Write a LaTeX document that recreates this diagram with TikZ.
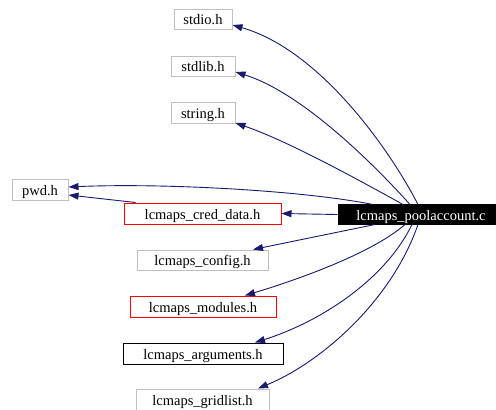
\documentclass[tikz,border=0pt]{standalone}
\usepackage{fontspec}
\setmainfont{Liberation Serif}
\usetikzlibrary{arrows.meta}
\definecolor{edgeblue}{HTML}{191970}
\definecolor{boxgray}{HTML}{BFBFBF}
\begin{document}
\begin{tikzpicture}[x=1pt,y=-1pt,
  box/.style={draw=boxgray,line width=1pt,inner sep=0pt,text height=11pt,text depth=0pt,font=\fontsize{14.5}{16}\selectfont},
  redbox/.style={box,draw=red},
  blackbox/.style={box,draw=black},
  edge/.style={draw=edgeblue,line width=0.9pt,-{Triangle[length=10pt,width=7pt]}}]
\useasboundingbox (0,0) rectangle (496,410);
\node[box,minimum width=58pt,minimum height=20pt] (stdio) at (203,19) {stdio.h};
\node[box,minimum width=64pt,minimum height=20pt] (stdlib) at (203,66) {stdlib.h};
\node[box,minimum width=64pt,minimum height=21pt] (string) at (203,112.5) {string.h};
\node[box,minimum width=56pt,minimum height=21pt] (pwd) at (40,189.5) {pwd.h};
\node[redbox,minimum width=157pt,minimum height=21pt] (cred) at (202.5,213.5) {lcmaps\_cred\_data.h};
\node[box,draw=black,fill=black,text=white,minimum width=158pt,minimum height=20pt] (pool) at (417,214.5) {\hspace{8pt}lcmaps\_poolaccount.c};
\node[box,minimum width=131pt,minimum height=20pt] (config) at (202.5,260) {lcmaps\_config.h};
\node[redbox,minimum width=146pt,minimum height=21pt] (modules) at (203,306.5) {lcmaps\_modules.h};
\node[blackbox,minimum width=160pt,minimum height=21pt] (args) at (203,353.5) {lcmaps\_arguments.h};
\node[box,minimum width=133pt,minimum height=21pt] (grid) at (202.5,399.5) {lcmaps\_gridlist.h};

\coordinate (p1) at (418,204.5);
\coordinate (p2) at (410,204.5);
\coordinate (p3) at (403,204.5);
\coordinate (p4) at (373,204.5);
\coordinate (q1) at (375,224.5);
\coordinate (q2) at (405,224.5);
\coordinate (q3) at (412,224.5);
\coordinate (q4) at (418,224.5);

\draw[edge] (p1) .. controls (390,150) and (320,50) .. (stdio.east |- 0,25);
\draw[edge] (p2) .. controls (370,160) and (300,92) .. (stdlib.east |- 0,72);
\draw[edge] (p3) .. controls (350,175) and (285,140) .. (string.east |- 0,123);
\draw[edge] (p4) .. controls (300,190) and (160,183) .. (pwd.east |- 0,187);
\draw[edge] (cred.north west) ++(12,0) coordinate (c1) -- (pwd.east |- 0,195);
\draw[edge] (pool.west) -- (cred.east);
\draw[edge] (q1) -- (253,249.5);
\draw[edge] (q2) .. controls (370,255) and (290,282) .. (245,295.5);
\draw[edge] (q3) .. controls (385,280) and (320,322) .. (255,342.5);
\draw[edge] (q4) .. controls (392,300) and (322,362) .. (258,388.5);
\end{tikzpicture}
\end{document}
